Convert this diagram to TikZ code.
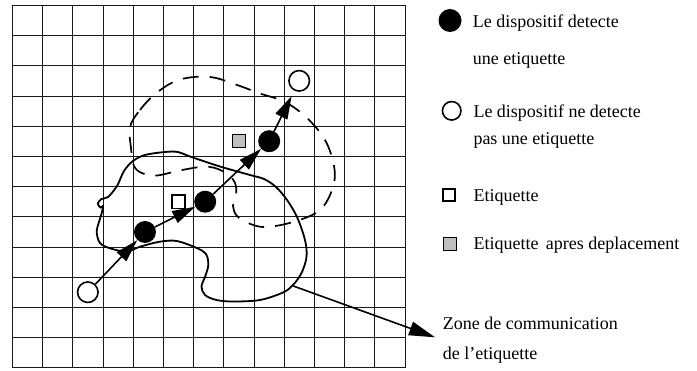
\documentclass[tikz,border=0pt]{standalone}
\usepackage{fontspec}
\setmainfont{Liberation Serif}
\usetikzlibrary{arrows.meta}
\newcommand\lgfont{\fontsize{18}{22}\selectfont}
\begin{document}
\begin{tikzpicture}[x=1pt, y=-1pt,
  gridline/.style={line width=1.2pt, black!90},
  fdot/.style={circle, fill=black, inner sep=0pt, minimum size=22pt},
  odot/.style={circle, draw=black, line width=1.6pt, fill=white, inner sep=0pt, minimum size=20.5pt},
  tagbox/.style={rectangle, draw=black, line width=1.6pt, fill=white, inner sep=0pt, minimum size=13.5pt},
  movedbox/.style={tagbox, fill=black!25, line width=1pt},
  move/.style={-{Triangle[length=23pt,width=13pt]}, line width=1.6pt},
  zonearrow/.style={-{Triangle[length=26pt,width=14pt]}, line width=1.6pt},
  zoneline/.style={line width=1.8pt},
  newzone/.style={line width=1.7pt, dash pattern=on 16pt off 11pt},
  legendtext/.style={anchor=base west, inner sep=0pt, font=\lgfont}]
\useasboundingbox (0,0) rectangle (697,371);

% square grid, 13 x 12 cells, lines snapped to whole units
\foreach \i in {0,...,13} {
  \pgfmathsetmacro\gx{round(12+30.2*\i)+0.5}
  \draw[gridline] (\gx,5) -- (\gx,368);
}
\foreach \j in {0,...,12} {
  \pgfmathsetmacro\gy{round(5+30.2*\j)+0.5}
  \draw[gridline] (12,\gy) -- (406,\gy);
}

% communication zone of the tag (solid closed curve)
\draw[zoneline] plot[smooth cycle, tension=0.55] coordinates {
  (124,171) (133,161) (145,155) (165,152) (178,152) (190,156.5)
  (220,166.5) (250,175) (264,179) (276,187) (287,200) (297,217)
  (305,240) (306.5,257) (301.5,273) (293,285) (283,292.5) (260,300)
  (233,301.5) (216.5,300) (205,295) (201.5,286.5) (205,277) (208.3,265)
  (206,254) (196.7,248) (176.7,241) (160,241.7) (140,246.7) (126.7,251.5)
  (110,248.3) (100,243) (96.7,232) (99,222) (101.5,214) (103,206)
  (100.5,207.5) (97.8,203.5) (101.5,199) (108,197) (117,186)};

% zone after the tag has moved (dashed closed curve)
\draw[newzone] plot[smooth cycle, tension=0.6] coordinates {
  (130,127) (140,110) (157,92.5) (180,79.5) (210,77) (237,85)
  (260,93.5) (285,102) (307,118) (325,140) (334,166) (333,187)
  (320,210) (293,222) (265,227) (248,223) (237,216) (233,206)
  (236,195) (235,183) (226,173) (208,166.7) (182,170) (157,175.5)
  (143,173.5) (134,166) (131,148)};

% tags
\node[tagbox] (tag) at (178.5,201.8) {};
\node[movedbox] (tagm) at (239,141) {};

% positions of the reader
\node[odot] (o1) at (87.8,292.2) {};
\node[fdot] (f1) at (145,232) {};
\node[fdot] (f2) at (205.2,201.7) {};
\node[fdot] (f3) at (269.2,141.2) {};
\node[odot] (o2) at (299.2,80.8) {};

\draw[move] (o1) -- (f1);
\draw[move] (f1) -- (f2);
\draw[move] (f2) -- (f3);
\draw[move, shorten >=6pt] (f3) -- (o2);

% pointer to the zone label
\coordinate (zs) at (293.3,286);
\coordinate (zt) at (435,337.3);
\draw[zonearrow] (zs) -- (zt);
\node[legendtext] (zl1) at (442.7,329.3) {Zone de communication};
\node[legendtext] (zl2) at (442.7,360) {de l’etiquette};

% legend
\node[fdot, minimum size=23pt] (lf) at (450,20.5) {};
\node[legendtext] (lf1) at (472.7,27.7) {Le dispositif detecte};
\node[legendtext] (lf2) at (472.7,64.3) {une etiquette};

\node[odot, minimum size=18.5pt] (lo) at (451.7,110.8) {};
\node[legendtext] (lo1) at (473.3,117.7) {Le dispositif ne detecte};
\node[legendtext] (lo2) at (473.3,144.3) {pas une etiquette};

\node[tagbox, line width=2pt, minimum size=12pt] (lt) at (449.3,195) {};
\node[legendtext] (lt1) at (473.3,201.7) {Etiquette};

\node[movedbox, minimum size=13.5pt] (lm) at (450,244.2) {};
\node[legendtext] (lm1) at (473.3,250) {Etiquette\hspace{3pt} apres deplacement};
\end{tikzpicture}
\end{document}
